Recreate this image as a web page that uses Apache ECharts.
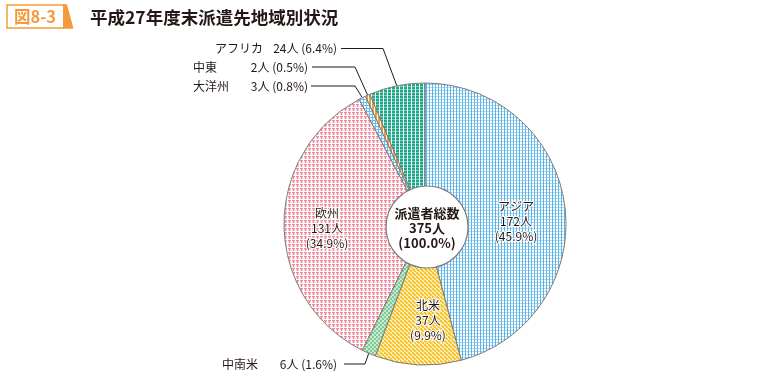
<!DOCTYPE html>
<html><head><meta charset="utf-8">
<script src="https://cdn.jsdelivr.net/npm/echarts@6/dist/echarts.min.js"></script>
<style>html,body{margin:0;padding:0;background:#fff}#c{width:760px;height:385px}</style>
</head><body><div id="c"></div>
<script>
// ---- data ----
const categories = ['アジア', '北米', '中南米', '欧州', '大洋州', '中東', 'アフリカ'];
const counts = [172, 37, 6, 131, 3, 2, 24];
const shares = [45.9, 9.9, 1.6, 34.9, 0.8, 0.5, 6.4];
const centerLines = ['派遣者総数', '375人', '(100.0%)'];
const figNo = '図8-3';
const titleText = '平成27年度末派遣先地域別状況';

// ---- styling / layout (not data) ----
const FONT = '"Noto Sans CJK JP", "Noto Sans", sans-serif';
const CX = 425, CY = 224, R = 141;
const insidePos = { 'アジア': [516, 221], '北米': [428, 320], '欧州': [327, 228] };
// outside label: [nameLeft, valueRight, y, elbowX, lineEndX]
const outsidePos = {
  'アフリカ': [215, 337, 48.5, 383, 341],
  '中東': [193, 308, 67, 355, 312],
  '大洋州': [193, 308, 86, 355, 311],
  '中南米': [222, 337, 364, 365, 344]
};

function pat(w, h, draw) {
  const c = document.createElement('canvas');
  c.width = w; c.height = h;
  const g = c.getContext('2d');
  g.fillStyle = '#fff'; g.fillRect(0, 0, w, h);
  draw(g);
  return { image: c, repeat: 'repeat' };
}
const patterns = {
  'アジア': pat(3, 3, g => {
    g.fillStyle = '#a9daf4'; g.fillRect(0, 0, 3, 1);
    g.fillStyle = '#5fb5e6'; g.fillRect(0, 0, 1, 3);
  }),
  '北米': pat(4, 4, g => {
    g.strokeStyle = '#f6c42c'; g.lineWidth = 2.2;
    for (let k = -8; k <= 8; k += 4) { g.beginPath(); g.moveTo(k, 0); g.lineTo(k + 4, 4); g.stroke(); }
  }),
  '中南米': pat(4, 4, g => {
    g.fillStyle = '#7fc992'; g.fillRect(0, 0, 2, 2); g.fillRect(2, 2, 2, 2);
    g.fillStyle = '#c8ead0'; g.fillRect(2, 0, 2, 2); g.fillRect(0, 2, 2, 2);
  }),
  '欧州': pat(4, 4, g => {
    g.fillStyle = '#f9d4da'; g.fillRect(0, 0, 4, 4);
    g.fillStyle = '#fff'; g.fillRect(3, 0, 1, 4); g.fillRect(0, 3, 4, 1);
    g.fillStyle = '#f28a9d'; g.fillRect(0, 0, 3, 1); g.fillRect(1, 1, 1, 2);
  }),
  '大洋州': pat(3, 3, g => {
    g.fillStyle = '#6cbde9'; g.fillRect(0, 0, 1, 3); g.fillRect(0, 0, 3, 1);
  }),
  '中東': pat(3, 3, g => {
    g.fillStyle = '#f39a3c'; g.fillRect(0, 0, 2, 3);
  }),
  'アフリカ': pat(4, 3, g => {
    g.fillStyle = '#19a98a'; g.fillRect(0, 0, 3, 3);
    g.fillStyle = '#7fd0bb'; g.fillRect(0, 2, 3, 1);
  })
};

const seriesData = categories.map((name, i) => {
  const item = { name: name, value: counts[i], itemStyle: { color: patterns[name] } };
  if (outsidePos[name]) {
    const p = outsidePos[name];
    const total = p[1] - p[0];
    item.label = {
      position: 'outside',
      formatter: '{n|' + name + '}{v|' + counts[i] + '人 (' + shares[i].toFixed(1) + '%)}',
      rich: {
        n: { width: total - 72, align: 'left', fontSize: 12, fontFamily: FONT, color: '#231815' },
        v: { width: 72, align: 'right', fontSize: 12, fontFamily: FONT, color: '#231815' }
      }
    };
    item.labelLine = { show: true };
  } else {
    item.label = {
      position: 'inside',
      formatter: name + '\n' + counts[i] + '人\n(' + shares[i].toFixed(1) + '%)',
      fontSize: 12, lineHeight: 15, fontFamily: FONT, color: '#231815',
      textBorderColor: '#fff', textBorderWidth: 2
    };
    item.labelLine = { show: false };
  }
  return item;
});

const chart = echarts.init(document.getElementById('c'), null, { renderer: 'canvas' });
chart.setOption({
  animation: false,
  backgroundColor: '#fff',
  series: [{
    type: 'pie',
    center: [CX, CY],
    radius: [0, R],
    startAngle: 90,
    clockwise: true,
    avoidLabelOverlap: false,
    silent: true,
    itemStyle: { borderColor: '#7d7d7d', borderWidth: 1 },
    labelLine: { lineStyle: { color: '#231815', width: 1 }, length: 10, length2: 10 },
    data: seriesData,
    labelLayout: function (params) {
      const name = categories[params.dataIndex];
      if (insidePos[name]) {
        const q = insidePos[name];
        return { x: q[0], y: q[1], align: 'center', verticalAlign: 'middle' };
      }
      const p = outsidePos[name];
      const pts = params.labelLinePoints;
      const start = pts ? pts[0] : [p[3], p[2]];
      return {
        x: p[0], y: p[2], align: 'left', verticalAlign: 'middle',
        labelLinePoints: [start, [p[3], p[2]], [p[4], p[2]]]
      };
    }
  }],
  graphic: [
    { type: 'circle', shape: { cx: 427, cy: 227, r: 41 }, style: { fill: '#fff', stroke: '#7d7d7d', lineWidth: 1.2 }, z: 100 },
    { type: 'text', x: 427, y: 213, z: 101, style: { text: centerLines[0], align: 'center', verticalAlign: 'middle', font: 'bold 13px ' + FONT, fill: '#231815' } },
    { type: 'text', x: 427, y: 228, z: 101, style: { text: centerLines[1], align: 'center', verticalAlign: 'middle', font: 'bold 13px ' + FONT, fill: '#231815' } },
    { type: 'text', x: 427, y: 243, z: 101, style: { text: centerLines[2], align: 'center', verticalAlign: 'middle', font: 'bold 13px ' + FONT, fill: '#231815' } },
    { type: 'rect', shape: { x: 7, y: 5, width: 57, height: 23 }, style: { fill: '#fff', stroke: '#f39a3c', lineWidth: 1.5 }, z: 100 },
    { type: 'polygon', shape: { points: [[63, 4.25], [67, 4.25], [73.5, 28.75], [63, 28.75]] }, style: { fill: '#f39a3c' }, z: 101 },
    { type: 'text', x: 35, y: 17, z: 102, style: { text: figNo, align: 'center', verticalAlign: 'middle', font: 'bold 16.5px ' + FONT, fill: '#f39a3c' } },
    { type: 'text', x: 90, y: 17, z: 102, style: { text: titleText, align: 'left', verticalAlign: 'middle', font: 'bold 17.5px ' + FONT, fill: '#231815' } }
  ]
});
</script>
</body></html>
